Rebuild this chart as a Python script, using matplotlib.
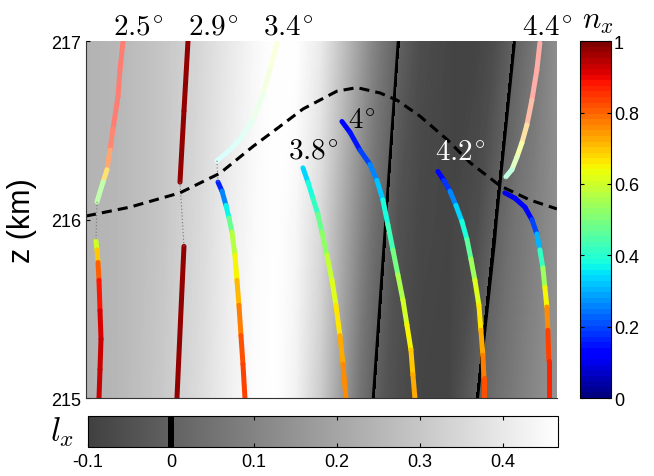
import matplotlib as mpl
import matplotlib.pyplot as plt
import numpy as np
from matplotlib.collections import LineCollection
from matplotlib.colors import LinearSegmentedColormap, Normalize

plt.rcParams['font.family'] = ['Liberation Sans', 'DejaVu Sans']
plt.rcParams['mathtext.fontset'] = 'cm'

# background field l_x (rows: z = 215, 216, 217)
grid_x = [0.0, 0.34, 0.74, 1.14, 1.44, 1.69, 1.89, 2.09, 2.34, 2.59, 2.74,
          2.87, 2.99, 3.12, 3.34, 3.64, 3.92, 4.09, 4.29, 4.49, 4.71]
grid_z = [215, 216, 217]
lx_bot = [0.233, 0.255, 0.301, 0.361, 0.422, 0.459, 0.467, 0.429, 0.316, 0.149, 0.051,
          0.0, -0.040, -0.062, -0.085, -0.085, 0.0, 0.036, 0.074, 0.112, 0.149]
lx_mid = [0.240, 0.255, 0.293, 0.354, 0.414, 0.452, 0.467, 0.444, 0.354, 0.202, 0.112,
          0.044, 0.002, -0.047, -0.077, -0.085, -0.062, -0.005, 0.051, 0.089, 0.134]
lx_top = [0.240, 0.255, 0.293, 0.346, 0.399, 0.444, 0.467, 0.467, 0.407, 0.270, 0.180,
          0.104, 0.051, 0.0, -0.062, -0.085, -0.085, -0.062, 0.0, 0.059, 0.127]

# dashed curve
dash_x = [0.0, 0.44, 0.94, 1.34, 1.67, 1.91, 2.17, 2.51, 2.71, 2.94, 3.11, 3.34, 3.61,
          3.84, 4.14, 4.44, 4.71]
dash_z = [216.02, 216.07, 216.15, 216.26, 216.41, 216.51, 216.62, 216.72, 216.74, 216.71,
          216.67, 216.58, 216.45, 216.32, 216.19, 216.11, 216.06]

# rays: x, z, n_x
r25u_x = [0.37, 0.34, 0.32, 0.27, 0.24, 0.21, 0.17, 0.11]
r25u_z = [217.0, 216.84, 216.69, 216.51, 216.39, 216.28, 216.21, 216.10]
r25u_n = [0.88, 0.88, 0.88, 0.88, 0.86, 0.76, 0.62, 0.42]
r25l_x = [0.10, 0.11, 0.12, 0.13, 0.14, 0.15, 0.14, 0.13]
r25l_z = [215.88, 215.83, 215.76, 215.66, 215.49, 215.33, 215.16, 215.0]
r25l_n = [0.55, 0.65, 0.75, 0.85, 0.9, 0.92, 0.93, 0.94]

r29u_x = [1.02, 0.98, 0.94]
r29u_z = [217.0, 216.61, 216.21]
r29u_n = [0.97, 0.97, 0.97]
r29l_x = [0.98, 0.945, 0.91]
r29l_z = [215.85, 215.43, 215.0]
r29l_n = [0.97, 0.97, 0.97]

r34u_x = [1.91, 1.84, 1.77, 1.66, 1.54, 1.44, 1.31]
r34u_z = [216.99, 216.84, 216.70, 216.55, 216.45, 216.39, 216.33]
r34u_n = [0.62, 0.6, 0.55, 0.45, 0.4, 0.38, 0.36]
r34l_x = [1.32, 1.36, 1.40, 1.43, 1.46, 1.49, 1.51, 1.53, 1.55, 1.57, 1.59]
r34l_z = [216.21, 216.16, 216.08, 216.01, 215.93, 215.80, 215.66, 215.52, 215.35, 215.19, 215.0]
r34l_n = [0.12, 0.2, 0.32, 0.42, 0.52, 0.62, 0.68, 0.74, 0.8, 0.83, 0.85]

r38_x = [2.17, 2.22, 2.27, 2.32, 2.36, 2.41, 2.46, 2.50, 2.54, 2.57, 2.60]
r38_z = [216.29, 216.21, 216.12, 216.03, 215.93, 215.80, 215.66, 215.52, 215.35, 215.19, 215.0]
r38_n = [0.32, 0.36, 0.4, 0.44, 0.5, 0.56, 0.6, 0.64, 0.7, 0.74, 0.76]

r40_x = [2.56, 2.64, 2.74, 2.84, 2.91, 2.97, 3.02, 3.07, 3.12, 3.17, 3.21, 3.25, 3.27, 3.29]
r40_z = [216.55, 216.49, 216.39, 216.31, 216.22, 216.11, 215.97, 215.83, 215.69, 215.55,
         215.41, 215.27, 215.13, 215.0]
r40_n = [0.12, 0.13, 0.17, 0.22, 0.28, 0.35, 0.4, 0.46, 0.53, 0.58, 0.63, 0.68, 0.72, 0.74]

r42_x = [3.52, 3.58, 3.64, 3.70, 3.76, 3.81, 3.85, 3.89, 3.93, 3.95, 3.97, 3.98, 3.98]
r42_z = [216.27, 216.22, 216.16, 216.08, 215.99, 215.89, 215.78, 215.66, 215.52, 215.38,
         215.24, 215.11, 215.0]
r42_n = [0.12, 0.15, 0.22, 0.3, 0.36, 0.42, 0.5, 0.58, 0.64, 0.7, 0.74, 0.8, 0.84]

r44u_x = [4.54, 4.51, 4.46, 4.41, 4.36, 4.31, 4.26, 4.20]
r44u_z = [216.99, 216.84, 216.67, 216.53, 216.43, 216.35, 216.28, 216.24]
r44u_n = [0.88, 0.88, 0.87, 0.8, 0.66, 0.6, 0.5, 0.4]
r44l_x = [4.19, 4.29, 4.39, 4.46, 4.51, 4.54, 4.57, 4.59, 4.61, 4.62, 4.63, 4.63]
r44l_z = [216.15, 216.12, 216.07, 216.0, 215.92, 215.83, 215.73, 215.62, 215.51, 215.38,
          215.21, 215.0]
r44l_n = [0.1, 0.1, 0.12, 0.15, 0.25, 0.36, 0.48, 0.6, 0.7, 0.8, 0.86, 0.88]

# dotted links between ray pieces
link_x = [[0.11, 0.10], [0.94, 0.98], [1.31, 1.32], [4.20, 4.18]]
link_z = [[216.10, 215.89], [216.21, 215.85], [216.33, 216.21], [216.23, 216.16]]

labels = ['2.5', '2.9', '3.4', '3.8', '4', '4.2', '4.4']
label_x = [0.52, 1.27, 2.02, 2.27, 2.76, 3.74, 4.61]
label_z = [217.08, 217.08, 217.08, 216.39, 216.56, 216.38, 217.08]
label_c = ['k', 'k', 'k', 'k', 'k', 'w', 'k']

jet = mpl.colormaps['jet'].resampled(64)
lx_norm = Normalize(-0.1, 0.467)
lx_cmap = LinearSegmentedColormap.from_list(
    'lx', [(0, (0.25, 0.25, 0.25)), (0.170, (0.378, 0.378, 0.378)), (0.170, 'k'),
           (0.1825, 'k'), (0.1825, (0.387, 0.387, 0.387)), (1, 'w')], N=1024)

fig = plt.figure(figsize=(6.54, 4.77), dpi=100)
ax = fig.add_axes([0.1315, 0.1635, 0.720, 0.748])
cax_n = fig.add_axes([0.887, 0.1635, 0.0474, 0.748])
cax_l = fig.add_axes([0.1346, 0.0608, 0.7187, 0.065])

X, Z = np.meshgrid(grid_x, grid_z)
LX = np.array([lx_bot, lx_mid, lx_top])
ax.contourf(X, Z, LX, levels=np.linspace(-0.1, 0.467, 150), cmap=lx_cmap, norm=lx_norm)
ax.contour(X, Z, LX, levels=[0], colors='k', linewidths=1.6)


def ray(x, z, n, fade=0.0):
    pts = np.column_stack([x, z])
    segs = np.stack([pts[:-1], pts[1:]], axis=1)
    mid = (np.array(n[:-1]) + np.array(n[1:])) / 2
    cols = jet(mid)[:, :3] * (1 - fade) + fade
    ax.add_collection(LineCollection(segs, colors=cols, linewidths=3.6, capstyle='round'))


ray(r25u_x, r25u_z, r25u_n, 0.45)
ray(r25l_x, r25l_z, r25l_n)
ray(r29u_x, r29u_z, r29u_n)
ray(r29l_x, r29l_z, r29l_n)
ray(r34u_x, r34u_z, r34u_n, 0.85)
ray(r34l_x, r34l_z, r34l_n)
ray(r38_x, r38_z, r38_n)
ray(r40_x, r40_z, r40_n)
ray(r42_x, r42_z, r42_n)
ray(r44u_x, r44u_z, r44u_n, 0.65)
ray(r44l_x, r44l_z, r44l_n)

for lx_, lz_ in zip(link_x, link_z):
    ax.plot(lx_, lz_, color='#777777', lw=0.8, ls=(0, (1, 2)))

ax.plot(dash_x, dash_z, color='k', lw=2.2, ls=(0, (3.3, 2)))

for t, x, z, c in zip(labels, label_x, label_z, label_c):
    ax.text(x, z, '$' + t + '^{\\!\\circ}$', fontsize=21, color=c, ha='center', va='center')

ax.set_xlim(0, 4.71)
ax.set_ylim(215, 217)
ax.set_xticks([])
ax.set_yticks([215, 216, 217])
ax.tick_params(direction='in', length=3, labelsize=13)
ax.set_ylabel('z (km)', fontsize=22, labelpad=10)
for s in ['top', 'right']:
    ax.spines[s].set_visible(False)
for s in ['left', 'bottom']:
    ax.spines[s].set_color('#333333')

cb_n = fig.colorbar(mpl.cm.ScalarMappable(Normalize(0, 1), jet), cax=cax_n)
cb_n.set_ticks([0, 0.2, 0.4, 0.6, 0.8, 1])
cb_n.set_ticklabels(['0', '0.2', '0.4', '0.6', '0.8', '1'])
cax_n.tick_params(direction='in', length=3, left=True, right=True, labelsize=13, pad=2)
cb_n.outline.set_linewidth(0.8)

cb_l = fig.colorbar(mpl.cm.ScalarMappable(lx_norm, lx_cmap), cax=cax_l, orientation='horizontal')
cb_l.set_ticks([-0.1, 0, 0.1, 0.2, 0.3, 0.4])
cb_l.set_ticklabels(['-0.1', '0', '0.1', '0.2', '0.3', '0.4'])
cax_l.tick_params(direction='in', length=3, top=True, bottom=True, labelsize=13, pad=4)
cb_l.outline.set_linewidth(0.8)

fig.text(0.914, 0.955, '$n_x$', fontsize=22, ha='center', va='center')
fig.text(0.095, 0.094, '$l_x$', fontsize=24, ha='center', va='center')

fig.savefig('out.png', dpi=100)
